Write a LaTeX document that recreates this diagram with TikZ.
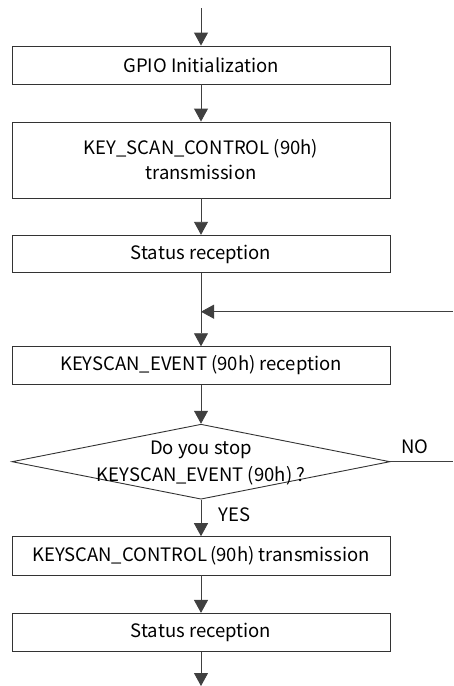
\documentclass[tikz,border=0pt]{standalone}
\usepackage{fontspec}
\setmainfont{Noto Sans CJK JP}
\usetikzlibrary{arrows.meta,shapes.geometric}
\begin{document}
\begin{tikzpicture}[x=1pt,y=1pt,
  line width=0.9pt,
  procbox/.style={draw=black!80, rectangle, minimum width=378pt, inner sep=0pt,
    font=\fontsize{18.5}{25}\selectfont, align=center},
  decision/.style={draw=black!80, diamond, minimum width=378pt, minimum height=75pt, inner sep=0pt},
  label/.style={font=\fontsize{18.5}{26.5}\selectfont, inner sep=0pt, align=center},
  flow/.style={draw=black!75, -{Triangle[width=14pt,length=13pt]}}
]
\useasboundingbox (0,0) rectangle (453,-686);

\coordinate (start) at (201,-8);
\node[procbox, minimum height=38pt] (gpio) at (201,-65) {GPIO Initialization};
\node[procbox, minimum height=76pt] (ctrl) at (201,-160) {KEY\_SCAN\_CONTROL (90h)\\transmission};
\node[procbox, minimum height=37.5pt] (stat1) at (201,-254) {Status reception};
\coordinate (merge) at (201,-311.7);
\coordinate (loopin) at (453,-311.7);
\node[procbox, minimum height=37.6pt] (event) at (201,-365.5) {KEYSCAN\_EVENT (90h) reception};
\node[decision] (ask) at (201,-461.7) {};
\node[label] (asktext) at (201,-463) {Do you stop\\KEYSCAN\_EVENT (90h) ?};
\coordinate (noend) at (453,-461.7);
\node[label] (no) at (415,-447) {NO};
\node[label, anchor=west] (yes) at (218,-515) {YES};
\node[procbox, minimum height=38.3pt] (stop) at (201,-555.8) {KEYSCAN\_CONTROL\,(90h) transmission};
\node[procbox, minimum height=37.7pt] (stat2) at (201,-632.2) {Status reception};
\coordinate (finish) at (201,-686);

\draw[flow] (start) -- (gpio);
\draw[flow] (gpio) -- (ctrl);
\draw[flow] (ctrl) -- (stat1);
\draw[flow] (stat1) -- (event);
\draw[flow] (loopin) -- (merge);
\draw[flow] (event) -- (ask);
\draw[draw=black!75] (ask.east) -- (noend);
\draw[flow] (ask) -- (stop);
\draw[flow] (stop) -- (stat2);
\draw[flow] (stat2) -- (finish);
\end{tikzpicture}
\end{document}
